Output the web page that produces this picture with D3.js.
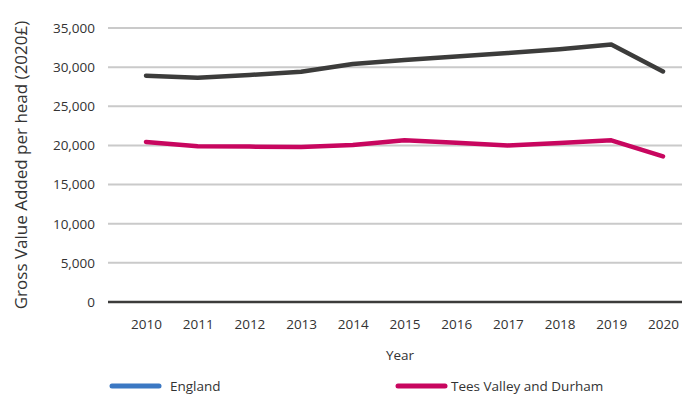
<!DOCTYPE html>
<html>
<head>
<meta charset="utf-8">
<title>GVA per head</title>
<style>
  body { margin: 0; background: #fff; }
  svg text { font-family: "Open Sans", sans-serif; fill: #333; }
</style>
</head>
<body>
<div id="chart"></div>
<script src="https://cdnjs.cloudflare.com/ajax/libs/d3/7.8.5/d3.min.js"></script>
<script>
const years = [2010, 2011, 2012, 2013, 2014, 2015, 2016, 2017, 2018, 2019, 2020];
const england = [28900, 28650, 29000, 29400, 30400, 30900, 31350, 31800, 32300, 32900, 29450];
const teesValley = [20450, 19900, 19850, 19800, 20050, 20650, 20350, 20000, 20300, 20650, 18600];
const yTicks = [0, 5000, 10000, 15000, 20000, 25000, 30000, 35000];
const seriesNames = ["England", "Tees Valley and Durham"];
const lineColours = ["#3c3c3b", "#c8065f"];
const legendColours = ["#3b78c3", "#c8065f"];

const W = 682, H = 394;
const plot = {left: 108, right: 682, top: 28, bottom: 302};

const svg = d3.select('#chart').append('svg')
  .attr('width', W).attr('height', H);

const x = d3.scalePoint().domain(years).range([146, 663]);
const y = d3.scaleLinear().domain([0, 35000]).range([plot.bottom, plot.top]);

// gridlines
svg.append('g').selectAll('line')
  .data(yTicks.filter(d => d > 0))
  .enter().append('line')
    .attr('x1', plot.left).attr('x2', plot.right)
    .attr('y1', d => y(d)).attr('y2', d => y(d))
    .attr('stroke', '#cacaca').attr('stroke-width', 2);

// y tick labels
const yAxis = d3.axisLeft(y).tickValues(yTicks).tickFormat(d3.format(',')).tickSize(0).tickPadding(13);
const gy = svg.append('g').attr('transform', `translate(${plot.left},0)`).call(yAxis);
gy.select('.domain').remove();
gy.selectAll('text').style('font-size', '13.5px').attr('fill', '#333').style('font-family', '"Open Sans", sans-serif');

// x axis baseline
svg.append('line')
  .attr('x1', plot.left).attr('x2', plot.right)
  .attr('y1', y(0)).attr('y2', y(0))
  .attr('stroke', '#3c3c3b').attr('stroke-width', 2.5);

const xAxis = d3.axisBottom(x).tickSize(0).tickPadding(17);
const gx = svg.append('g').attr('transform', `translate(0,${y(0)})`).call(xAxis);
gx.select('.domain').remove();
gx.selectAll('text').style('font-size', '13.5px').attr('fill', '#333').style('font-family', '"Open Sans", sans-serif');

// lines
const line = d3.line().x((d, i) => x(years[i])).y(d => y(d));
[england, teesValley].forEach((s, k) => {
  svg.append('path')
    .datum(s)
    .attr('d', line)
    .attr('fill', 'none')
    .attr('stroke', lineColours[k])
    .attr('stroke-width', 4.5)
    .attr('stroke-linecap', 'round')
    .attr('stroke-linejoin', 'round');
});

// axis titles
svg.append('text')
  .attr('x', 400).attr('y', 360)
  .attr('text-anchor', 'middle')
  .style('font-size', '13.5px')
  .text('Year');

svg.append('text')
  .attr('transform', 'translate(27,165) rotate(-90)')
  .attr('text-anchor', 'middle')
  .style('font-size', '17px')
  .text('Gross Value Added per head (2020£)');

// legend
const legendX = [112, 398];
seriesNames.forEach((name, k) => {
  const g = svg.append('g').attr('transform', `translate(${legendX[k]},386)`);
  g.append('line')
    .attr('x1', 0).attr('x2', 47).attr('y1', 0).attr('y2', 0)
    .attr('stroke', legendColours[k]).attr('stroke-width', 5)
    .attr('stroke-linecap', 'round');
  g.append('text')
    .attr('x', k === 0 ? 58 : 53).attr('y', 5)
    .style('font-size', '13.5px')
    .text(name);
});
</script>
</body>
</html>
